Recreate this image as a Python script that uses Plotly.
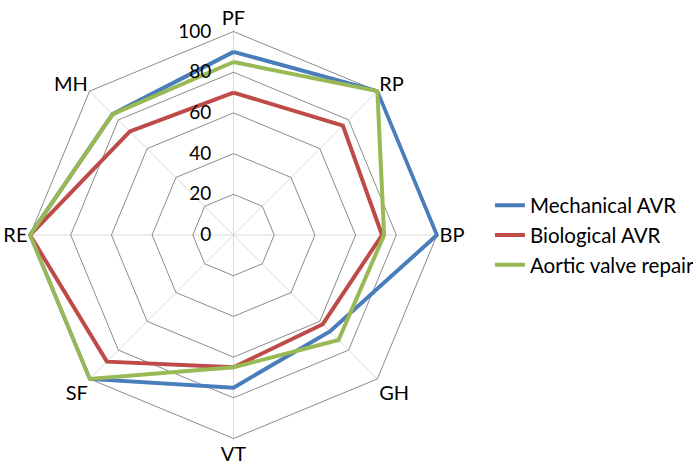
import plotly.graph_objects as go

categories = ["PF", "RP", "BP", "GH", "VT", "SF", "RE", "MH"]
mechanical = [90, 100, 100, 67, 75, 100, 100, 84]
biological = [70, 76, 73, 62, 65, 88, 100, 72]
repair = [85, 100, 74, 73, 65, 100, 100, 84]
radial_ticks = [0, 20, 40, 60, 80, 100]

series = [
    ("Mechanical AVR", mechanical, "#4A7EBB"),
    ("Biological AVR", biological, "#BE4B48"),
    ("Aortic valve repair", repair, "#98B954"),
]

fig = go.Figure()
for name, vals, color in series:
    fig.add_trace(go.Scatterpolar(
        r=vals + vals[:1],
        theta=categories + categories[:1],
        mode="lines",
        name=name,
        line=dict(color=color, width=4),
        cliponaxis=False,
    ))

W, H = 693, 470
RMAX = 101
cx, cy, R = 233.5, 235, 203.5 * RMAX / 100
FONT = "Lato"
fig.update_layout(
    width=W, height=H,
    margin=dict(l=0, r=0, t=0, b=0, autoexpand=False),
    paper_bgcolor="white",
    plot_bgcolor="white",
    font=dict(family=FONT, size=18, color="black"),
    polar=dict(
        domain=dict(x=[(cx - R) / W, (cx + R) / W], y=[(H - cy - R) / H, (H - cy + R) / H]),
        gridshape="linear",
        bgcolor="white",
        radialaxis=dict(
            range=[0, RMAX],
            tickvals=radial_ticks,
            ticktext=[str(v) for v in radial_ticks],
            angle=90,
            tickangle=90,
            side="counterclockwise",
            showline=False,
            gridcolor="#8C8C8C",
            gridwidth=1,
            ticks="outside",
            ticklen=15,
            tickcolor="rgba(0,0,0,0)",
            tickfont=dict(size=19, family=FONT),
        ),
        angularaxis=dict(
            rotation=90,
            direction="clockwise",
            gridcolor="#D9D9D9",
            gridwidth=1,
            showline=False,
            ticks="",
            tickfont=dict(size=20, family=FONT),
        ),
    ),
    legend=dict(
        x=0.707, y=0.5, xanchor="left", yanchor="middle",
        font=dict(size=20.5, family=FONT),
        bgcolor="rgba(0,0,0,0)",
        tracegroupgap=0,
    ),
)

fig.write_html(
    "out.html",
    config={"displayModeBar": False},
    post_script="document.body.style.margin='0';document.body.style.padding='0';",
)
